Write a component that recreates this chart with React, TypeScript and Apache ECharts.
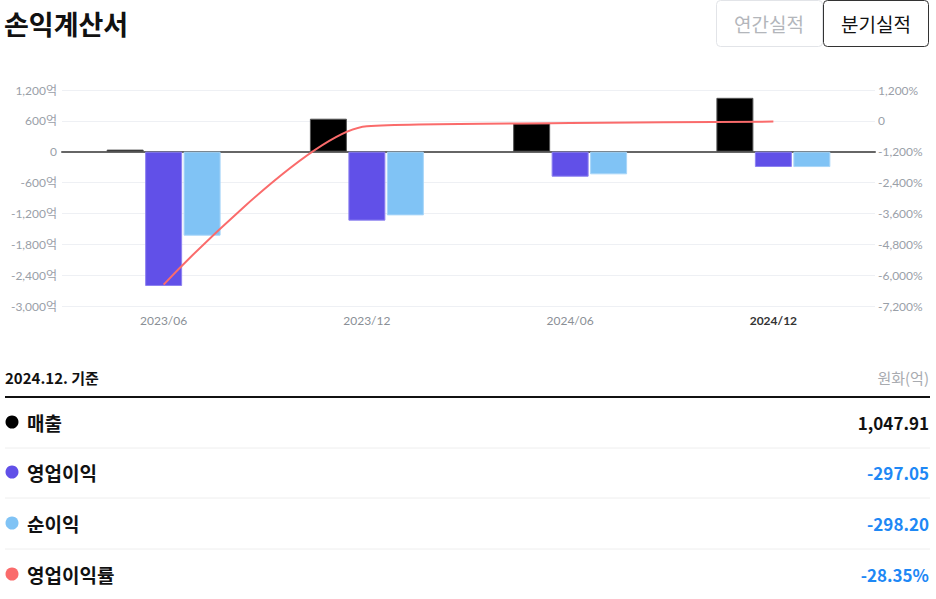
import React, { useEffect, useRef } from "react";
import * as echarts from "echarts";

const categories = ["2023/06", "2023/12", "2024/06", "2024/12"];
const revenue = [41, 642, 552, 1047.91];
const opProfit = [-2611, -1340, -486, -297.05];
const netIncome = [-1633, -1238, -440, -298.2];
const opMargin = [-6368, -209, -88, -28.35];

const leftTicks = { min: -3000, max: 1200, interval: 600 };
const rightTicks = { min: -7200, max: 1200, interval: 1200 };

const tableDate = "2024.12. 기준";
const tableUnit = "원화(억)";
const rowLabels = ["매출", "영업이익", "순이익", "영업이익률"];
const rowValues = ["1,047.91", "-297.05", "-298.20", "-28.35%"];
const rowColors = ["#000000", "#6150e8", "#80c3f5", "#fa6b6b"];

const KR = '"Noto Sans CJK KR", "Noto Sans", sans-serif';
const NUM = 'Lato, "Noto Sans CJK KR", sans-serif';

function fmt(v: number) {
  return Math.abs(v).toLocaleString("en-US");
}

export default function App() {
  const ref = useRef<HTMLDivElement>(null);
  useEffect(() => {
    document.body.style.margin = "0";
    const chart = echarts.init(ref.current!, null, { renderer: "svg" });
    const rowY = [422, 472, 523, 574];
    const graphics: any[] = [
      {
        type: "text",
        x: 4,
        y: 23,
        style: { text: "손익계산서", font: `bold 27px ${KR}`, fill: "#111", verticalAlign: "middle" },
      },
      {
        type: "rect",
        shape: { x: 716.5, y: 0.5, width: 106, height: 46, r: 4 },
        style: { fill: "#fff", stroke: "#e2e4e8", lineWidth: 1 },
      },
      {
        type: "text",
        x: 769,
        y: 23,
        style: { text: "연간실적", font: `19px ${KR}`, fill: "#b3b6bb", align: "center", verticalAlign: "middle" },
      },
      {
        type: "rect",
        shape: { x: 823.5, y: 0.5, width: 105, height: 46, r: 4 },
        style: { fill: "#fff", stroke: "#333", lineWidth: 1 },
      },
      {
        type: "text",
        x: 876,
        y: 23,
        style: { text: "분기실적", font: `19px ${KR}`, fill: "#111", align: "center", verticalAlign: "middle" },
      },
      {
        type: "text",
        x: 5,
        y: 377,
        style: { text: tableDate, font: `bold 15px ${KR}`, fill: "#111", verticalAlign: "middle" },
      },
      {
        type: "text",
        x: 929,
        y: 377,
        style: { text: tableUnit, font: `15px ${KR}`, fill: "#a8abb0", align: "right", verticalAlign: "middle" },
      },
      {
        type: "line",
        shape: { x1: 5, y1: 397, x2: 930, y2: 397 },
        style: { stroke: "#111", lineWidth: 2 },
      },
    ];
    rowLabels.forEach((lab, i) => {
      const y = rowY[i];
      graphics.push({
        type: "circle",
        shape: { cx: 12, cy: y, r: 6.5 },
        style: { fill: rowColors[i] },
      });
      graphics.push({
        type: "text",
        x: 27,
        y,
        style: { text: lab, font: `bold 19px ${KR}`, fill: "#111", verticalAlign: "middle" },
      });
      const v = rowValues[i];
      graphics.push({
        type: "text",
        x: 929,
        y,
        style: {
          text: v,
          font: `bold 17px ${KR}`,
          fill: v.startsWith("-") ? "#1e88f5" : "#111",
          align: "right",
          verticalAlign: "middle",
        },
      });
      if (i < rowLabels.length - 1) {
        graphics.push({
          type: "line",
          shape: { x1: 5, y1: y + 26, x2: 930, y2: y + 26 },
          style: { stroke: "#eeeeee", lineWidth: 1 },
        });
      }
    });

    chart.setOption({
      animation: false,
      backgroundColor: "#fff",
      textStyle: { fontFamily: NUM },
      grid: { left: 62, right: 61, top: 90, bottom: 293, containLabel: false },
      xAxis: {
        type: "category",
        data: categories,
        axisTick: { show: false },
        axisLine: { lineStyle: { color: "#666", width: 2 } },
        axisLabel: {
          margin: 8,
          fontSize: 12,
          color: "#8a8f96",
          fontFamily: NUM,
          formatter: (v: string, idx: number) =>
            idx === categories.length - 1 ? `{b|${v}}` : v,
          rich: { b: { fontWeight: "bold", color: "#333", fontSize: 12, fontFamily: NUM } },
        },
      },
      yAxis: [
        {
          type: "value",
          ...leftTicks,
          axisLine: { show: false },
          axisTick: { show: false },
          splitLine: { lineStyle: { color: "#eef0f4" } },
          axisLabel: {
            margin: 5,
            fontSize: 12,
            color: "#9aa0a8",
            fontFamily: NUM,
            formatter: (v: number) => (v === 0 ? "0" : `${v < 0 ? "-" : ""}${fmt(v)}억`),
          },
        },
        {
          type: "value",
          ...rightTicks,
          axisLine: { show: false },
          axisTick: { show: false },
          splitLine: { show: false },
          axisLabel: {
            margin: 3,
            fontSize: 12,
            color: "#9aa0a8",
            fontFamily: NUM,
            formatter: (v: number) => (v === 0 ? "0" : `${v < 0 ? "-" : ""}${fmt(v)}%`),
          },
        },
      ],
      series: [
        {
          name: "매출",
          type: "bar",
          data: revenue,
          barWidth: 37,
          barGap: "4%",
          itemStyle: { color: "#000", borderColor: "#555", borderWidth: 1 },
        },
        {
          name: "영업이익",
          type: "bar",
          data: opProfit,
          barWidth: 37,
          barGap: "4%",
          itemStyle: { color: "#6150e8", borderColor: "#8d82f0", borderWidth: 1 },
        },
        {
          name: "순이익",
          type: "bar",
          data: netIncome,
          barWidth: 37,
          barGap: "4%",
          itemStyle: { color: "#80c3f5", borderColor: "#a8d6f8", borderWidth: 1 },
        },
        {
          name: "영업이익률",
          type: "line",
          yAxisIndex: 1,
          data: opMargin,
          smooth: 0.25,
          symbol: "none",
          lineStyle: { color: "#fa6b6b", width: 2 },
          z: 5,
        },
      ],
      graphic: graphics,
    });
    return () => chart.dispose();
  }, []);
  return <div ref={ref} style={{ width: 936, height: 599 }} />;
}
